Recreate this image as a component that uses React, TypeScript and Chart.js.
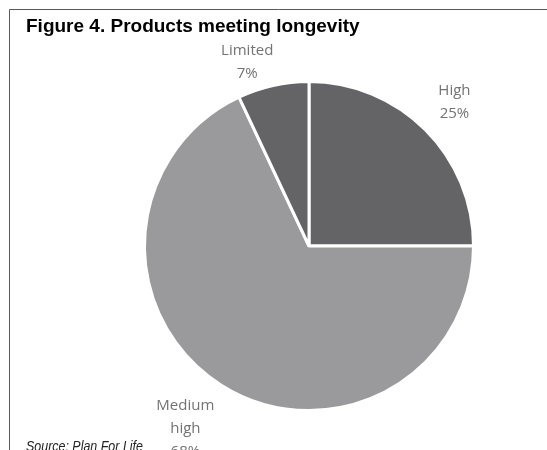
import React, { useEffect, useRef } from "react";
import { Chart, registerables } from "chart.js";

Chart.register(...registerables);

const categories = ["High", "Medium high", "Limited"];
const shares = [25, 68, 7];
const sliceColors = ["#646466", "#9a9a9c", "#646466"];
const titleText = "Figure 4. Products meeting longevity";
const sourceText = "Source: Plan For Life";

const W = 547;
const H = 450;

const framePlugin = {
  id: "frame",
  beforeDraw(chart: any) {
    const ctx = chart.ctx;
    ctx.save();
    ctx.fillStyle = "#ffffff";
    ctx.fillRect(0, 0, chart.width, chart.height);
    ctx.strokeStyle = "#5a5a5a";
    ctx.lineWidth = 1;
    ctx.beginPath();
    ctx.moveTo(9.5, chart.height);
    ctx.lineTo(9.5, 9.5);
    ctx.lineTo(chart.width, 9.5);
    ctx.stroke();
    ctx.restore();
  },
  afterDraw(chart: any) {
    const ctx = chart.ctx;
    ctx.save();
    ctx.fillStyle = "#000000";
    ctx.textBaseline = "alphabetic";
    ctx.textAlign = "left";
    ctx.font = 'bold 19px "Liberation Sans", Arial, sans-serif';
    ctx.fillText(titleText, 26, 32);
    ctx.restore();
    ctx.save();
    ctx.fillStyle = "#222222";
    ctx.textBaseline = "alphabetic";
    ctx.textAlign = "left";
    ctx.font = 'italic 15px "Liberation Sans", sans-serif';
    ctx.translate(26, 451);
    ctx.scale(0.83, 1);
    ctx.fillText(sourceText, 0, 0);
    ctx.restore();
  },
};

function wrap(ctx: CanvasRenderingContext2D, text: string, maxW: number): string[] {
  const words = text.split(" ");
  const lines: string[] = [];
  let cur = "";
  for (const w of words) {
    const t = cur ? cur + " " + w : w;
    if (cur && ctx.measureText(t).width > maxW) {
      lines.push(cur);
      cur = w;
    } else cur = t;
  }
  if (cur) lines.push(cur);
  return lines;
}

const labelPlugin = {
  id: "outLabels",
  afterDatasetsDraw(chart: any) {
    const ctx = chart.ctx;
    const meta = chart.getDatasetMeta(0);
    const lh = 23;
    ctx.save();
    ctx.font = '15px "Open Sans", sans-serif';
    ctx.fillStyle = "#737373";
    ctx.textAlign = "center";
    ctx.textBaseline = "middle";
    meta.data.forEach((arc: any, i: number) => {
      const p = arc.getProps(["x", "y", "startAngle", "endAngle", "outerRadius"], true);
      const mid = (p.startAngle + p.endAngle) / 2;
      const lines = [...wrap(ctx, categories[i], 70), shares[i] + "%"];
      const w = Math.max(...lines.map((l) => ctx.measureText(l).width));
      const h = lines.length * lh;
      const c = Math.cos(mid);
      const s = Math.sin(mid);
      const cx = p.x + c * (p.outerRadius + 23) + Math.sign(c) * 0.8 * (w / 2);
      const cy = p.y + s * (p.outerRadius - 15) + Math.sign(s) * 1.65 * (h / 2);
      lines.forEach((l, j) => {
        ctx.fillText(l, cx, cy - h / 2 + lh * (j + 0.5));
      });
    });
    ctx.restore();
  },
};

export default function App() {
  const ref = useRef<HTMLCanvasElement | null>(null);
  useEffect(() => {
    if (!ref.current) return;
    const chart = new Chart(ref.current, {
      type: "pie",
      data: {
        labels: categories,
        datasets: [
          {
            data: shares,
            backgroundColor: sliceColors,
            borderColor: "#ffffff",
            borderWidth: 3,
            radius: 164.5,
          } as any,
        ],
      },
      options: {
        responsive: false,
        animation: false,
        layout: { padding: { left: 145, right: 74, top: 82, bottom: 40 } },
        plugins: {
          legend: { display: false },
          tooltip: { enabled: false },
          title: { display: false },
        },
      },
      plugins: [framePlugin, labelPlugin],
    });
    return () => chart.destroy();
  }, []);
  return (
    <div style={{ position: "fixed", left: 0, top: 0, width: W, height: H, background: "#fff" }}>
      <canvas ref={ref} width={W} height={H} style={{ display: "block" }} />
    </div>
  );
}
